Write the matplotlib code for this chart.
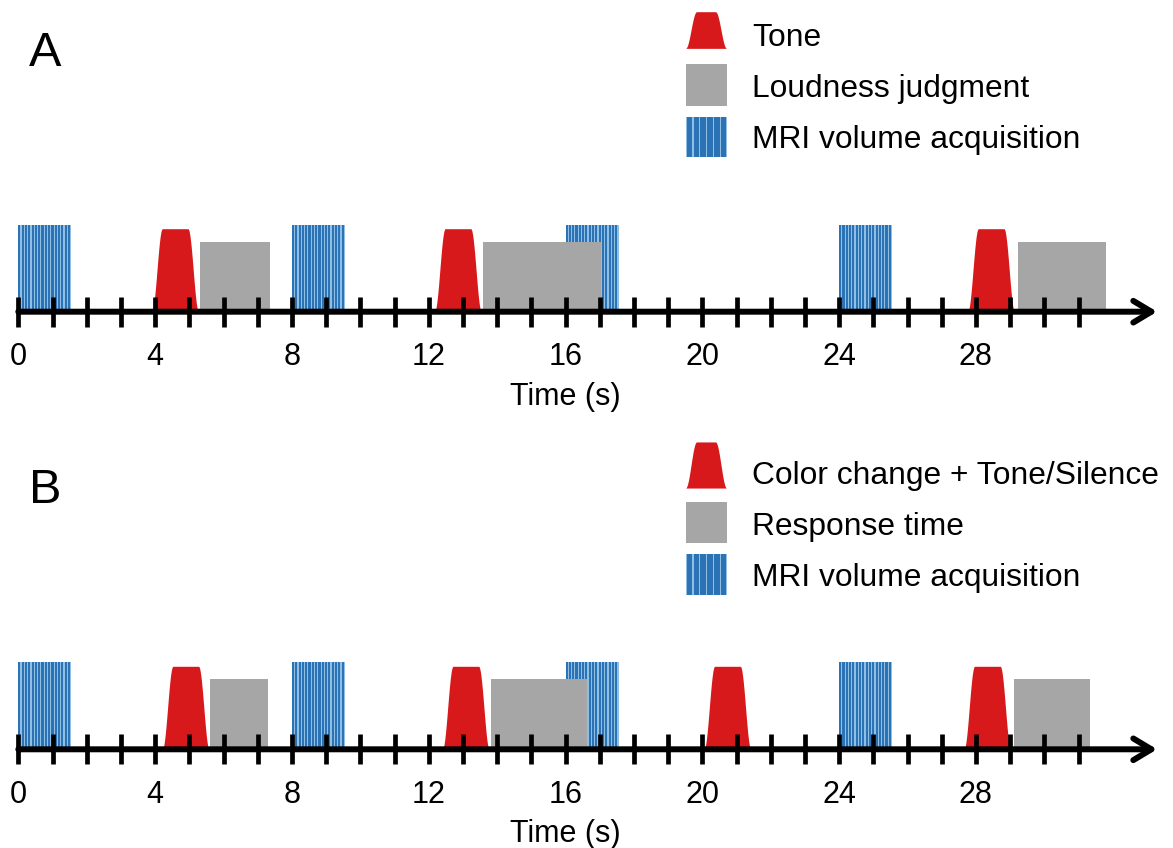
import numpy as np
import matplotlib
matplotlib.use("Agg")
import matplotlib.pyplot as plt
from matplotlib.patches import Polygon, Rectangle
from matplotlib.legend_handler import HandlerBase

plt.rcParams['font.family'] = ['Liberation Sans', 'DejaVu Sans']

# ---------------- data ----------------
tick_values = list(range(0, 32))
tick_label_values = [0, 4, 8, 12, 16, 20, 24, 28]
axis_end = 33.3
xlabel_text = "Time (s)"
panel_letters = ["A", "B"]

mri_onsets = [0, 8, 16, 24]
mri_duration = 1.55

tone_onsets_A = [3.90, 12.17, 27.76]
tone_onsets_B = [4.21, 12.40, 20.05, 27.65]
tone_duration = 1.37
tone_ramp = 0.31

gray_onsets_A = [5.31, 13.60, 29.24]
gray_durations_A = [2.06, 3.43, 2.56]
gray_onsets_B = [5.60, 13.81, 29.10]
gray_durations_B = [1.70, 2.81, 2.24]

legend_labels_A = ["Tone", "Loudness judgment", "MRI volume acquisition"]
legend_labels_B = ["Color change + Tone/Silence", "Response time", "MRI volume acquisition"]

# ---------------- style ----------------
RED = "#d7191c"
GRAY = "#a6a6a6"
BLUE_DARK = "#2b73b4"
BLUE_LIGHT = "#90bfe6"
MRI_H, TONE_H, GRAY_H = 87, 83, 70
FS = 22
LEG_FS = 22.9

W, H = 1173, 848
fig = plt.figure(figsize=(W / 100, H / 100), dpi=100)
fig.patch.set_facecolor("white")

px_per_s = 34.2
x0_px = 18.3
xlim = (-x0_px / px_per_s, (W - x0_px) / px_per_s)


def tone_env(x, onset, dur, ramp):
    t = x - onset
    y = np.ones_like(t)
    up = t < ramp
    y[up] = 0.5 * (1 - np.cos(np.pi * np.clip(t[up], 0, None) / ramp))
    dn = t > dur - ramp
    y[dn] = 0.5 * (1 - np.cos(np.pi * np.clip(dur - t[dn], 0, None) / ramp))
    return np.clip(y, 0, 1)


class Key:
    """Legend key: kind + vertical extent (points, relative to the text baseline)."""
    def __init__(self, kind, bottom, top):
        self.kind, self.bottom, self.top = kind, bottom, top


class HandlerKey(HandlerBase):
    def create_artists(self, legend, orig, xd, yd, width, height, fontsize, trans):
        x0 = -xd
        b, t = orig.bottom, orig.top
        if orig.kind == "tone":
            xs = np.linspace(0, 1, 80)
            env = tone_env(xs, 0.0, 1.0, 0.27)
            x = x0 + xs * width
            y = b + env * (t - b)
            verts = np.column_stack([np.r_[x, x[::-1]], np.r_[y, np.full_like(y, b)]])
            return [Polygon(verts, closed=True, facecolor=RED, edgecolor="none",
                            transform=trans)]
        if orig.kind == "gray":
            return [Rectangle((x0, b), width, t - b, facecolor=GRAY, edgecolor="none",
                              transform=trans)]
        arts = [Rectangle((x0, b), width, t - b, facecolor=BLUE_LIGHT,
                          edgecolor="none", transform=trans)]
        n = 6
        step = width / n
        for i in range(n):
            arts.append(Rectangle((x0 + i * step + step * 0.1, b), step * 0.8, t - b,
                                  facecolor=BLUE_DARK, edgecolor="none", transform=trans))
        return arts


def draw_panel(axis_px, letter, tone_onsets, gray_onsets, gray_durs, labels, tone_ext):
    ylo, yhi = -20, 100
    ax = fig.add_axes([0, (H - axis_px + ylo) / H, 1, (yhi - ylo) / H])
    ax.set_xlim(*xlim)
    ax.set_ylim(ylo, yhi)
    ax.patch.set_visible(False)
    for s in ax.spines.values():
        s.set_visible(False)
    ax.spines['bottom'].set_position(('data', 0))
    ax.set_yticks([])

    # MRI acquisitions
    n = 16
    period = mri_duration / n
    for on in mri_onsets:
        ax.broken_barh([(on, mri_duration)], (0, MRI_H), facecolor=BLUE_LIGHT,
                       edgecolor="none", zorder=1.0)
        xs = on + period * np.arange(n)
        ax.broken_barh([(x, period * 0.64) for x in xs], (0, MRI_H),
                       facecolor=BLUE_DARK, edgecolor="none", zorder=1.05)

    # tones
    for on in tone_onsets:
        x = np.linspace(on, on + tone_duration, 160)
        ax.fill_between(x, 0, TONE_H * tone_env(x, on, tone_duration, tone_ramp),
                        color=RED, lw=0, zorder=1.1)

    # responses
    ax.bar(gray_onsets, [GRAY_H] * len(gray_onsets), width=gray_durs, align='edge',
           color=GRAY, lw=0, zorder=1.2)

    ax.set_xticks(tick_values,
                  labels=[str(t) if t in tick_label_values else "" for t in tick_values])
    ax.tick_params(axis='x', direction='inout', length=22.3, width=3.4, labelsize=FS,
                   pad=10.7, color='black', labelcolor='black')
    ax.set_xlabel(xlabel_text, fontsize=FS, labelpad=6.9,
                  x=(16 - xlim[0]) / (xlim[1] - xlim[0]))

    ax.annotate("", xy=(axis_end, 0), xytext=(0, 0), annotation_clip=False,
                arrowprops=dict(arrowstyle="->,head_length=13,head_width=7.8",
                                lw=4.3, color="black", shrinkA=0, shrinkB=0,
                                mutation_scale=1), zorder=5)

    fig.text(29 / W, 1 - (axis_px - 246) / H, letter, fontsize=35,
             ha='left', va='baseline')

    handles = [Key("tone", *tone_ext), Key("gray", -5.8, 23.8), Key("mri", -6.2, 23.0)]
    ax.legend(handles, labels, handler_map={Key: HandlerKey()},
              loc='upper left', bbox_to_anchor=(686 / W, 1 - (axis_px - 288.2) / H),
              bbox_transform=fig.transFigure, frameon=False, fontsize=LEG_FS,
              handlelength=1.29, handleheight=0.7, handletextpad=0.78,
              labelspacing=0.66, borderpad=0, borderaxespad=0)
    return ax


draw_panel(311.7, panel_letters[0], tone_onsets_A, gray_onsets_A, gray_durations_A,
           legend_labels_A, (-1.7, 24.7))
draw_panel(749.3, panel_letters[1], tone_onsets_B, gray_onsets_B, gray_durations_B,
           legend_labels_B, (-3.2, 30.0))

fig.savefig("out.png", dpi=100, facecolor="white")
